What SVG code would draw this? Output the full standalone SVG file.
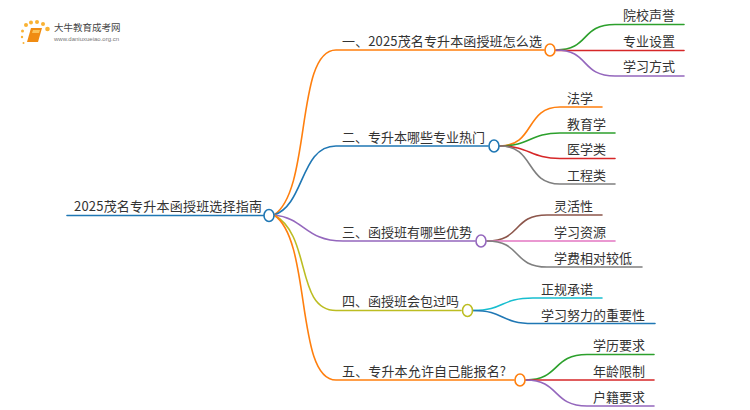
<svg xmlns="http://www.w3.org/2000/svg" width="750" height="410" viewBox="0 0 750 410">
<style>
.t{font-family:"Noto Sans CJK SC","Liberation Sans",sans-serif;font-size:13px;fill:#333}
.c{fill:none;stroke-width:1.600;stroke-linecap:round}
.n{fill:#fff;stroke-width:1.600}
.or{stroke:#ff7f0e}.bl{stroke:#1f77b4}.pu{stroke:#9467bd}.ol{stroke:#bcbd22}.gr{stroke:#2ca02c}.re{stroke:#d62728}.br{stroke:#8c564b}.pk{stroke:#e377c2}.gy{stroke:#7f7f7f}.cy{stroke:#17becf}
</style>
<rect width="750" height="410" fill="#fff"/>
<g id="logo">
<g fill="#f9b233"><circle cx="26" cy="25" r="2"/><circle cx="31" cy="22.500" r="2"/><circle cx="37" cy="22" r="2"/><circle cx="43" cy="24" r="2"/><circle cx="47.500" cy="29" r="2.300"/><circle cx="22.500" cy="31" r="1.500"/><circle cx="22" cy="37" r="1.200"/><circle cx="23.500" cy="43" r="1"/></g>
<path d="M31 28H42L38 42H27Z" fill="#f08c12"/><path d="M33 30H40L39 33H32Z" fill="#fbc35a"/>
<text x="54" y="31" style="font-family:'Noto Sans CJK SC',sans-serif;font-size:9.500px;fill:#444">大牛教育成考网</text>
<text x="54" y="41" style="font-family:'Liberation Sans',sans-serif;font-size:6px;fill:#777">www.daniuxueiao.org.cn</text>
</g>
<g id="connectors">
<path class="c bl" d="M67 215.500H264"/>
<path class="c or" d="M274 215C312 190 295 50 336 50H544"/>
<path class="c bl" d="M274 215C305 205 300 146 336 146H488"/>
<path class="c pu" d="M274 215C305 218 305 241 343 241H475"/>
<path class="c ol" d="M274 215C312 235 295 310.500 336 310.500H461"/>
<path class="c or" d="M274 215C312 240 295 380 336 380H514"/>
<path class="c gr" d="M556 50C590 50 580 24.500 615 24.500H684"/>
<path class="c re" d="M556 50.500H684"/>
<path class="c pu" d="M556 50C590 50 580 76 615 76H684"/>
<path class="c or" d="M500 146C535 146 525 107 560 107H602"/>
<path class="c gr" d="M500 146C530 146 530 133 560 133H615"/>
<path class="c re" d="M500 146C530 146 530 158.500 560 158.500H615"/>
<path class="c gy" d="M500 146C535 146 525 184 560 184H615"/>
<path class="c br" d="M487 241C522 241 512 215 547 215H602"/>
<path class="c pk" d="M487 241H615"/>
<path class="c gy" d="M487 241C522 241 512 267 547 267H642"/>
<path class="c cy" d="M473 310.500C505 310.500 500 298 533 298H602"/>
<path class="c bl" d="M473 310.500C505 310.500 500 323.500 533 323.500H655"/>
<path class="c gr" d="M526 380C560 380 552 354.500 587 354.500H654"/>
<path class="c re" d="M526 380H654"/>
<path class="c pu" d="M526 380C560 380 552 406 587 406H654"/>
</g>
<g id="root"><text class="t" x="74" y="210.500" textLength="188">2025茂名专升本函授班选择指南</text><ellipse class="n bl" cx="269" cy="215.500" rx="5" ry="6"/></g>
<g id="b1"><text class="t" x="342" y="45.500" textLength="200">一、2025茂名专升本函授班怎么选</text><ellipse class="n or" cx="550" cy="50" rx="5" ry="6"/></g>
<g id="b2"><text class="t" x="342" y="141.500">二、专升本哪些专业热门</text><ellipse class="n bl" cx="494" cy="146" rx="5" ry="6"/></g>
<g id="b3"><text class="t" x="342" y="236.500">三、函授班有哪些优势</text><ellipse class="n pu" cx="481" cy="241" rx="5" ry="6"/></g>
<g id="b4"><text class="t" x="342" y="305.500">四、函授班会包过吗</text><ellipse class="n ol" cx="467.500" cy="310.500" rx="5" ry="6"/></g>
<g id="b5"><text class="t" x="342" y="375.500" textLength="164">五、专升本允许自己能报名?</text><ellipse class="n or" cx="520" cy="380" rx="5" ry="6"/></g>
<g id="n11"><text class="t" x="623" y="19.500">院校声誉</text></g>
<g id="n12"><text class="t" x="623" y="45.500">专业设置</text></g>
<g id="n13"><text class="t" x="623" y="71">学习方式</text></g>
<g id="n21"><text class="t" x="567" y="102.500">法学</text></g>
<g id="n22"><text class="t" x="567" y="128.500">教育学</text></g>
<g id="n23"><text class="t" x="567" y="154">医学类</text></g>
<g id="n24"><text class="t" x="567" y="179.500">工程类</text></g>
<g id="n31"><text class="t" x="554" y="210.500">灵活性</text></g>
<g id="n32"><text class="t" x="554" y="236.500">学习资源</text></g>
<g id="n33"><text class="t" x="554" y="262.500">学费相对较低</text></g>
<g id="n41"><text class="t" x="541" y="293.500">正规承诺</text></g>
<g id="n42"><text class="t" x="541" y="319.500">学习努力的重要性</text></g>
<g id="n51"><text class="t" x="593" y="349.500">学历要求</text></g>
<g id="n52"><text class="t" x="593" y="375.500">年龄限制</text></g>
<g id="n53"><text class="t" x="593" y="401.500">户籍要求</text></g>
</svg>
